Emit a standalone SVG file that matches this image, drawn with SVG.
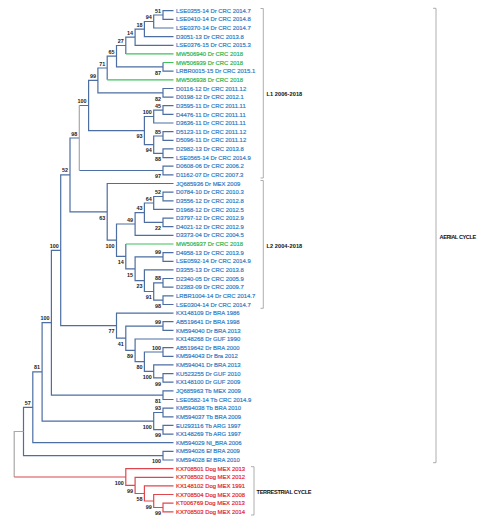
<svg xmlns="http://www.w3.org/2000/svg" width="497" height="520" viewBox="0 0 497 520">
<style>
.b{fill:none;stroke:#4C6EA2;stroke-width:1.2}
.g{fill:none;stroke:#3CC25A;stroke-width:1.2}
.r{fill:none;stroke:#E0474C;stroke-width:1.2}
.gr{fill:none;stroke:#A8A8A8;stroke-width:1.2}
.br{fill:none;stroke:#9A9A9A;stroke-width:0.8}
text{font-family:"Liberation Sans",Arial,sans-serif}
.lf{font-size:5.9px;stroke-width:0.18}
.tb{fill:#2E7CC6;stroke:#2E7CC6}.tg{fill:#2DB34A;stroke:#2DB34A}.tr{fill:#E3262E;stroke:#E3262E}
.bs{font-size:5.4px;font-weight:bold;fill:#222;text-anchor:end}
.cl{font-size:5.6px;font-weight:bold;fill:#111}
</style>
<rect width="497" height="520" fill="#fff"/>
<g id="connectors">
<path class="b" d="M173.5 10.7H163V19.3H173.5M163 15H153.7V28H173.5M153.7 21.5H144.4V36.6H173.5M144.4 29.05H135.1V45.3H173.5M135.1 37.2H125.8V53.9M163 62.5V71.2H173.5M125.8 45.5H116.5V66.9H163M116.5 56.2H107.2V79.8M173.5 88.5H163V97.1H173.5M107.2 68H97.9V92.8H163M173.5 105.7H163V114.4H173.5M163 110.1H153.7V123H173.5M173.5 131.7H163V140.3H173.5M173.5 148.9H163V157.6H173.5M163 136H153.7V153.3H163M153.7 116.5H144.4V144.6H153.7M97.9 80.4H88.6V130.6H144.4M173.5 166.2H163V174.9H173.5M88.6 105.5H79.3M79.3 170.5H163"/>
<path class="b" d="M173.5 192.1H163V200.8H173.5M163 196.5H153.7V209.4H173.5M173.5 218.1H163V226.7H173.5M153.7 203H144.4V222.4H163M144.4 212.7H135.1V235.3H173.5M173.5 252.6H163V261.3H173.5M173.5 278.5H163V287.2H173.5M173.5 295.8H163V304.5H173.5M163 282.9H153.7V300.1H163M173.5 269.9H144.4V291.5H153.7M163 256.9H135.1V280.7H144.4M125.8 244V268.8H135.1M135.1 224H116.5V256.4H125.8M173.5 183.5H107.2V240.2H116.5M79.3 138H70V211.9H107.2"/>
<path class="b" d="M173.5 321.7H163V330.4H173.5M173.5 347.7H163V356.3H173.5M173.5 373.6H163V382.2H173.5M173.5 364.9H153.7V377.9H163M163 352H144.4V371.4H153.7M173.5 339H135.1V361.7H144.4M163 326.1H125.8V350.4H135.1M173.5 313.1H116.5V338.2H125.8M70 174.9H60.7V325.7H116.5M173.5 390.9H163V399.5H173.5M60.7 250.3H51.4V395.2H163M173.5 408.1H163V416.8H173.5M173.5 425.4H163V434.1H173.5M163 412.5H153.7V429.7H163M51.4 322.7H42.1V421.1H153.7M42.1 371.9H32.8V442.7H173.5M173.5 451.3H163V460H173.5M32.8 407.3H23.5V455.7H163"/>
<path class="g" d="M125.8 53.9H173.5M163 62.5H173.5M107.2 79.8H173.5M173.5 244H125.8"/>
<path class="gr" d="M79.3 105.5V170.5M23.5 431.5H14.2V477"/>
<path class="r" d="M14.2 477H125.8M173.5 503.2H163V511.8H173.5M173.5 494.5H153.7V507.5H163M173.5 485.9H144.4V501H153.7M173.5 477.3H135.1V493.5H144.4M173.5 468.6H125.8V485.4H135.1"/>
</g>
<g id="bootstrap">
<text class="bs" x="161" y="12.5">51</text>
<text class="bs" x="151.7" y="19">94</text>
<text class="bs" x="142.4" y="26.6">18</text>
<text class="bs" x="133.1" y="34.7">14</text>
<text class="bs" x="123.8" y="43">27</text>
<text class="bs" x="161" y="74.6">87</text>
<text class="bs" x="114.5" y="53.7">65</text>
<text class="bs" x="105.2" y="65.5">71</text>
<text class="bs" x="161" y="100.5">82</text>
<text class="bs" x="95.9" y="77.9">99</text>
<text class="bs" x="86.6" y="103">100</text>
<text class="bs" x="161" y="107.6">45</text>
<text class="bs" x="151.7" y="114">100</text>
<text class="bs" x="161" y="133.5">85</text>
<text class="bs" x="161" y="161">88</text>
<text class="bs" x="151.7" y="152.3">94</text>
<text class="bs" x="142.4" y="138.3">93</text>
<text class="bs" x="161" y="178.2">97</text>
<text class="bs" x="77.3" y="135.5">98</text>
<text class="bs" x="68" y="172.4">52</text>
<text class="bs" x="161" y="194">52</text>
<text class="bs" x="151.7" y="200.5">64</text>
<text class="bs" x="161" y="230.1">22</text>
<text class="bs" x="142.4" y="210.2">43</text>
<text class="bs" x="133.1" y="221.5">49</text>
<text class="bs" x="161" y="254.4">99</text>
<text class="bs" x="161" y="280.4">88</text>
<text class="bs" x="161" y="307.8">98</text>
<text class="bs" x="151.7" y="299.2">91</text>
<text class="bs" x="142.4" y="288.4">23</text>
<text class="bs" x="133.1" y="276.5">15</text>
<text class="bs" x="123.8" y="264.1">14</text>
<text class="bs" x="114.5" y="247.9">100</text>
<text class="bs" x="105.2" y="219.6">63</text>
<text class="bs" x="161" y="323.6">99</text>
<text class="bs" x="161" y="349.5">100</text>
<text class="bs" x="161" y="385.6">99</text>
<text class="bs" x="151.7" y="379.1">100</text>
<text class="bs" x="142.4" y="369.4">80</text>
<text class="bs" x="133.1" y="358.1">89</text>
<text class="bs" x="123.8" y="345.9">41</text>
<text class="bs" x="114.5" y="333.4">77</text>
<text class="bs" x="58.7" y="247.8">100</text>
<text class="bs" x="161" y="402.9">81</text>
<text class="bs" x="49.4" y="320.2">100</text>
<text class="bs" x="161" y="410">93</text>
<text class="bs" x="161" y="437.4">99</text>
<text class="bs" x="151.7" y="428.8">100</text>
<text class="bs" x="40.1" y="369.4">81</text>
<text class="bs" x="30.8" y="404.8">57</text>
<text class="bs" x="161" y="463.4">100</text>
<text class="bs" x="161" y="515.2">99</text>
<text class="bs" x="151.7" y="508.7">99</text>
<text class="bs" x="142.4" y="501.2">58</text>
<text class="bs" x="133.1" y="493.1">99</text>
<text class="bs" x="123.8" y="484.7">100</text>
</g>
<g id="leaves" class="lf">
<g id="n1"><text class="tb" x="176" y="12.8">LSE0355-14 Dr CRC 2014.7</text></g>
<g id="n2"><text class="tb" x="176" y="21.4">LSE0410-14 Dr CRC 2014.8</text></g>
<g id="n3"><text class="tb" x="176" y="30.1">LSE0370-14 Dr CRC 2014.7</text></g>
<g id="n4"><text class="tb" x="176" y="38.7">D3051-13 Dr CRC 2013.8</text></g>
<g id="n5"><text class="tb" x="176" y="47.4">LSE0376-15 Dr CRC 2015.3</text></g>
<g id="n6"><text class="tg" x="176" y="56">MW506940 Dr CRC 2018</text></g>
<g id="n7"><text class="tg" x="176" y="64.6">MW506939 Dr CRC 2018</text></g>
<g id="n8"><text class="tb" x="176" y="73.3">LRBR0015-15 Dr CRC 2015.1</text></g>
<g id="n9"><text class="tg" x="176" y="81.9">MW506938 Dr CRC 2018</text></g>
<g id="n10"><text class="tb" x="176" y="90.6">D0116-12 Dr CRC 2011.12</text></g>
<g id="n11"><text class="tb" x="176" y="99.2">D0198-12 Dr CRC 2012.1</text></g>
<g id="n12"><text class="tb" x="176" y="107.8">D3595-11 Dr CRC 2011.11</text></g>
<g id="n13"><text class="tb" x="176" y="116.5">D4476-11 Dr CRC 2011.11</text></g>
<g id="n14"><text class="tb" x="176" y="125.1">D3636-11 Dr CRC 2011.11</text></g>
<g id="n15"><text class="tb" x="176" y="133.8">D5123-11 Dr CRC 2011.12</text></g>
<g id="n16"><text class="tb" x="176" y="142.4">D5096-11 Dr CRC 2011.12</text></g>
<g id="n17"><text class="tb" x="176" y="151">D2982-13 Dr CRC 2013.8</text></g>
<g id="n18"><text class="tb" x="176" y="159.7">LSE0565-14 Dr CRC 2014.9</text></g>
<g id="n19"><text class="tb" x="176" y="168.3">D0608-06 Dr CRC 2006.2</text></g>
<g id="n20"><text class="tb" x="176" y="177">D1162-07 Dr CRC 2007.3</text></g>
<g id="n21"><text class="tb" x="176" y="185.6">JQ685936 Dr MEX 2009</text></g>
<g id="n22"><text class="tb" x="176" y="194.2">D0784-10 Dr CRC 2010.3</text></g>
<g id="n23"><text class="tb" x="176" y="202.9">D3556-12 Dr CRC 2012.8</text></g>
<g id="n24"><text class="tb" x="176" y="211.5">D1968-12 Dr CRC 2012.5</text></g>
<g id="n25"><text class="tb" x="176" y="220.2">D3797-12 Dr CRC 2012.9</text></g>
<g id="n26"><text class="tb" x="176" y="228.8">D4021-12 Dr CRC 2012.9</text></g>
<g id="n27"><text class="tb" x="176" y="237.4">D3373-04 Dr CRC 2004.5</text></g>
<g id="n28"><text class="tg" x="176" y="246.1">MW506937 Dr CRC 2018</text></g>
<g id="n29"><text class="tb" x="176" y="254.7">D4958-13 Dr CRC 2013.9</text></g>
<g id="n30"><text class="tb" x="176" y="263.4">LSE0592-14 Dr CRC 2014.9</text></g>
<g id="n31"><text class="tb" x="176" y="272">D3355-13 Dr CRC 2013.8</text></g>
<g id="n32"><text class="tb" x="176" y="280.6">D2340-05 Dr CRC 2005.9</text></g>
<g id="n33"><text class="tb" x="176" y="289.3">D2383-09 Dr CRC 2009.7</text></g>
<g id="n34"><text class="tb" x="176" y="297.9">LRBR1004-14 Dr CRC 2014.7</text></g>
<g id="n35"><text class="tb" x="176" y="306.6">LSE0304-14 Dr CRC 2014.7</text></g>
<g id="n36"><text class="tb" x="176" y="315.2">KX148109 Dr BRA 1986</text></g>
<g id="n37"><text class="tb" x="176" y="323.8">AB519641 Dr BRA 1998</text></g>
<g id="n38"><text class="tb" x="176" y="332.5">KM594040 Dr BRA 2013</text></g>
<g id="n39"><text class="tb" x="176" y="341.1">KX148268 Dr GUF 1990</text></g>
<g id="n40"><text class="tb" x="176" y="349.8">AB519642 Dr BRA 2000</text></g>
<g id="n41"><text class="tb" x="176" y="358.4">KM594043 Dr Bra 2012</text></g>
<g id="n42"><text class="tb" x="176" y="367">KM594041 Dr BRA 2013</text></g>
<g id="n43"><text class="tb" x="176" y="375.7">KU523255 Dr GUF 2010</text></g>
<g id="n44"><text class="tb" x="176" y="384.3">KX148100 Dr GUF 2009</text></g>
<g id="n45"><text class="tb" x="176" y="393">JQ685963 Tb MEX 2009</text></g>
<g id="n46"><text class="tb" x="176" y="401.6">LSE0582-14 Tb CRC 2014.9</text></g>
<g id="n47"><text class="tb" x="176" y="410.2">KM594038 Tb BRA 2010</text></g>
<g id="n48"><text class="tb" x="176" y="418.9">KM594037 Tb BRA 2009</text></g>
<g id="n49"><text class="tb" x="176" y="427.5">EU293116 Tb ARG 1997</text></g>
<g id="n50"><text class="tb" x="176" y="436.2">KX148269 Tb ARG 1997</text></g>
<g id="n51"><text class="tb" x="176" y="444.8">KM594029 Nl_BRA 2006</text></g>
<g id="n52"><text class="tb" x="176" y="453.4">KM594026 Ef BRA 2009</text></g>
<g id="n53"><text class="tb" x="176" y="462.1">KM594028 Ef BRA 2010</text></g>
<g id="n54"><text class="tr" x="176" y="470.7">KX708501 Dog MEX 2013</text></g>
<g id="n55"><text class="tr" x="176" y="479.4">KX708502 Dog MEX 2012</text></g>
<g id="n56"><text class="tr" x="176" y="488">KX148102 Dog MEX 1991</text></g>
<g id="n57"><text class="tr" x="176" y="496.6">KX708504 Dog MEX 2008</text></g>
<g id="n58"><text class="tr" x="176" y="505.3">KT006769 Dog MEX 2013</text></g>
<g id="n59"><text class="tr" x="176" y="513.9">KX708503 Dog MEX 2014</text></g>
</g>
<g id="groups">
<path class="br" d="M260.5 8.5H263.3V178H260.5M260.5 180.5H263.3V308.3H260.5M433 8.3H436V462.7H433M251 466.7H254V515H251"/>
<text class="cl" x="266.5" y="96.3" textLength="35.7">L1 2006-2018</text>
<text class="cl" x="266.5" y="247.7" textLength="35.7">L2 2004-2018</text>
<text class="cl" x="439.5" y="239.3" textLength="36.7">AERIAL CYCLE</text>
<text class="cl" x="256.5" y="493.7" textLength="55">TERRESTRIAL CYCLE</text>
</g>
</svg>
